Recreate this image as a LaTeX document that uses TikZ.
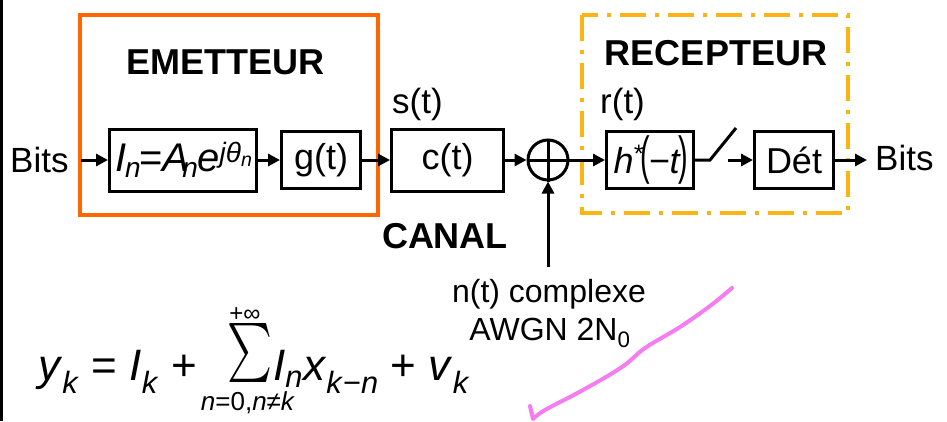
\documentclass[tikz,border=0pt]{standalone}
\usepackage{fontspec}
\usepackage{graphicx}
\setmainfont{Liberation Sans}
\usetikzlibrary{arrows.meta}
\definecolor{emitcol}{RGB}{255,102,0}
\definecolor{recvcol}{RGB}{250,180,20}
\definecolor{pinkink}{RGB}{245,125,240}
\newcommand\fsz[1]{\fontsize{#1}{#1}\selectfont}
\begin{document}
\begin{tikzpicture}[x=1pt,y=-1pt,
 blk/.style={draw, line width=3pt, inner sep=0pt, font=\fsz{36}},
 arr/.style={line width=3pt, -{Triangle[length=12pt,width=12pt]}},
 txt/.style={inner sep=0pt, font=\fsz{35}},
 ttl/.style={inner sep=0pt, font=\fsz{36}\bfseries, anchor=base},
 ntxt/.style={inner sep=0pt, font=\fsz{32}, anchor=base},
 ]
\useasboundingbox (0,0) rectangle (947,421);
\draw[line width=2.5pt] (1.25,0) -- (1.25,421);
% frames
\draw[emitcol, line width=3.5pt] (80,15) rectangle (378,215);
\draw[recvcol, line width=3.5pt, dash pattern=on 26pt off 9pt on 4pt off 9pt] (582,15) rectangle (848,213);
% titles
\node[ttl] (emT) at (225,74) {EMETTEUR};
\node[ttl] (reT) at (716,65) {RECEPTEUR};
\node[ttl] (caT) at (445,248) {CANAL};
% blocks
\node[blk, minimum width=147pt, minimum height=62pt] (inb) at (183,160) {};
\node[inner sep=0pt, font=\fsz{40}] (inf) at (184,160)
  {\itshape I\kern-1pt\textsubscript{n}\kern-2pt{\upshape=}A\kern-7pt\textsubscript{n}\kern-1pt e\textsuperscript{jθ\textsubscript{n}}};
\node[blk, minimum width=79pt, minimum height=57pt] (gb) at (321,160) {g(t)};
\node[blk, minimum width=112pt, minimum height=62pt] (cb) at (447.5,160) {c(t)};
\node[draw, circle, line width=3pt, minimum size=40pt, inner sep=0pt] (add) at (548,160) {};
\draw[line width=3pt] (add.north) -- (add.south) (add.west) -- (add.east);
\node[blk, minimum width=87pt, minimum height=57pt] (hb) at (650,160) {};
\node[inner sep=0pt, font=\fsz{36}] (hf) at (651,160)
  {\itshape h\kern-1pt\raisebox{2pt}{\textsuperscript{*}}\kern-3pt\scalebox{0.8}[1.45]{\upshape(}\kern-1pt−t\kern-1pt\scalebox{0.8}[1.45]{\upshape)}};
\node[blk, minimum width=79pt, minimum height=57pt] (db) at (794,160) {Dét};
% side texts
\node[txt, anchor=base west] (bitsL) at (10,172) {Bits};
\node[txt, anchor=base west] (bitsR) at (875,170) {Bits};
\node[txt, anchor=base west] (sLab) at (392,113) {s(t)};
\node[txt, anchor=base west] (rLab) at (600,113) {r(t)};
\node[ntxt] (nA) at (549,302) {n(t) complexe};
\node[ntxt] (nB) at (550,340) {AWGN 2N\textsubscript{0}};
% connectors
\draw[arr, shorten <=12pt] (bitsL.east |- inb.west) -- (inb.west);
\draw[arr] (inb.east) -- (gb.west);
\draw[arr] (gb.east) -- (cb.west);
\draw[arr] (cb.east) -- (add.west);
\draw[arr] (add.east) -- (hb.west);
\coordinate (noise) at (548,267);
\draw[arr] (noise) -- (add.south);
\coordinate (swA) at (710,160);
\coordinate (swB) at (736,128);
\coordinate (swC) at (728,160);
\draw[line width=3pt] (hb.east) -- (swA) -- (swB);
\draw[arr] (swC) -- (db.west);
\draw[arr, shorten >=8pt] (db.east) -- (bitsR.west |- db.east);
% formula
\node[inner sep=0pt, font=\fsz{44}, anchor=base west] (fL) at (38,380)
  {\textit{y}\textsubscript{\textit{k}} = \textit{I}\textsubscript{\textit{k}} +};
\node[inner sep=0pt] (sig) at (249.5,352.5) {\resizebox*{45pt}{59pt}{$\sum$}};
\node[inner sep=0pt, font=\fsz{24}, anchor=base] (supL) at (245,321) {+∞};
\node[inner sep=0pt, font=\fsz{26}, anchor=base] (subL) at (248,410) {\textit{n}=0,\textit{n}≠\textit{k}};
\node[inner sep=0pt, font=\fsz{44}, anchor=base west] (fR) at (273,380)
  {\textit{I}\textsubscript{\textit{n}}\textit{x}\textsubscript{\textit{k}−\textit{n}} + \textit{v}\textsubscript{\textit{k}}};
% handwritten stroke
\draw[pinkink, line width=4pt, line cap=round, line join=round]
  plot[smooth, tension=0.6] coordinates {(732,288) (710,306) (680,327) (645,348) (622,367) (583,390) (545,410) (533,419)} -- (530,406);
\end{tikzpicture}
\end{document}
